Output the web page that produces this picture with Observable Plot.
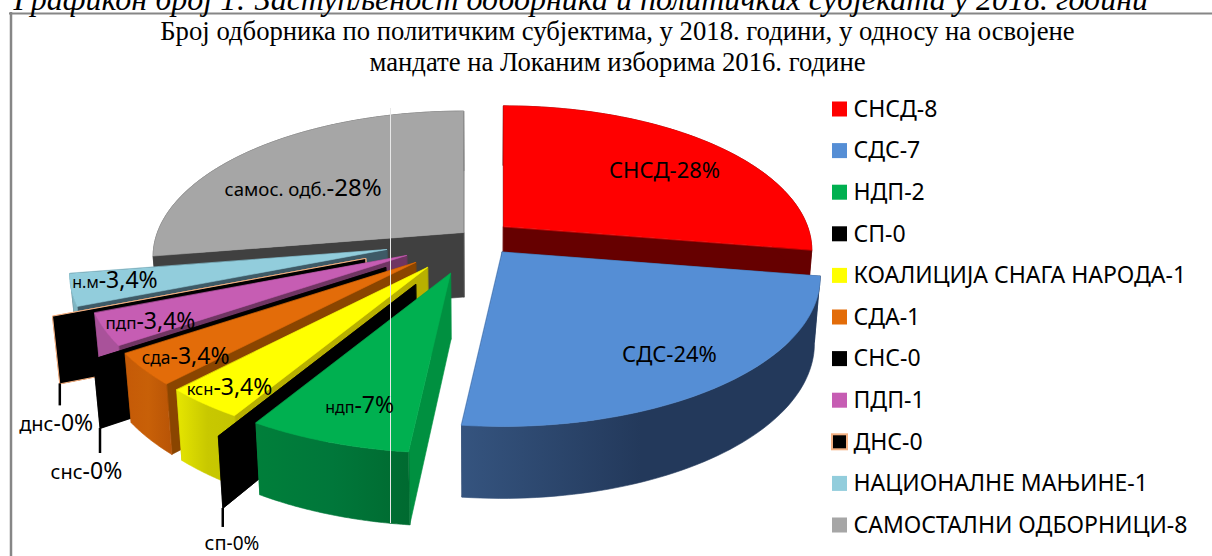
<!DOCTYPE html>
<html><head><meta charset="utf-8">
<style>html,body{margin:0;padding:0;background:#fff;overflow:hidden}svg{display:block}</style>
<script src="https://cdn.jsdelivr.net/npm/d3@7"></script>
<script src="https://cdn.jsdelivr.net/npm/@observablehq/plot@0.6"></script>
</head><body>
<script>
// ---- data ----
const parties = ["СНСД","СДС","НДП","СП","КОАЛИЦИЈА СНАГА НАРОДА","СДА","СНС","ПДП","ДНС","НАЦИОНАЛНЕ МАЊИНЕ","САМОСТАЛНИ ОДБОРНИЦИ"];
const seats   = [8,7,2,0,1,1,0,1,0,1,8];
const labelNames = ["СНСД","СДС","ндп","сп","ксн","сда","снс","пдп","днс","н.м","самос. одб."];
const labelPcts  = ["-28%","-24%","-7%","-0%","-3,4%","-3,4%","-0%","-3,4%","-0%","-3,4%","-28%"];
const topColors  = ["#FF0000","#558ED5","#00B050","#000000","#FFFF00","#E36C09","#000000","#C65DB3","#000000","#92CDDC","#A6A6A6"];
const sideColors = ["#660000","#23395b","#009040","#000000","#b8b000","#8a4500","#000000","#6f3562","#000000","#3e5a66","#404040"];
const rimColors  = ["#660000","url(#rimBlue)","url(#rimGreen)","#000000","url(#rimYellow)","url(#rimOrange)","#000000","#a9529a","#000000","#7fb5c2","#404040"];
const title = ["Број одборника по политичким субјектима, у 2018. години, у односу на освојене","мандате на Локаним изборима 2016. године"];
const caption = "Графикон број 1: Заступљеност одборника и политичких субјеката у 2018. години";

// ---- exploded-slice offsets on the pie plane (x, y in pie radii) ----
const explodeX = [.066,.060,-.103,-.209,-.176,-.2145,-.307,-.245,-.374,-.31,-.065];
const explodeY = [.078,-.100,-.2425,-.3125,-.2035,-.1706,-.2035,-.1238,-.1439,-.0831,.0353];

// ---- layout ----
const W = 1212, H = 556;
const cam = {cx:483, cy:237, f:308, g:142.4, k:.167, shrink:.983, thick:64.5, grow:.0006};
const paintOrder = [10,0,9,8,7,6,5,4,3,2,1];
const labelShift = [[166,-49],[164,110],[-96,140],[-189,266],[-214,128],[-245,101],[-303,212],[-270,73],[-312,173],[-288,39],[-137,-37]];
const nameSize = [22,22,16,20,16.5,17.4,20,17,20,16,18.6];
const pctSize  = [22,22,23,19,23,23,23,23,23,23,24];
const leaderLength = {3:19, 6:25, 8:22};

// ---- geometry: values -> projected 3D pie ----
const total = d3.sum(seats);
let acc = 0;
const slices = seats.map((v,i)=>{
  const a0 = acc/total*2*Math.PI; acc += v; const a1 = acc/total*2*Math.PI;
  const ex = explodeX[i], ey = explodeY[i], w0 = 1+cam.k*ey;
  const apex = [cam.cx+cam.f*ex/w0, cam.cy-cam.g*ey/w0];
  const pt = a=>{
    const s=Math.sin(a), c=Math.cos(a), w=1+cam.k*(ey+c);
    return [apex[0]+cam.f*s/w, apex[1]-cam.g*c/w];
  };
  return {i,a0,a1,apex,pt};
});
const drop = ([x,y]) => [cam.cx+(x-cam.cx)*cam.shrink, y+cam.thick*(1+cam.grow*(y-232))];
const arc = s => d3.range(0,61).map(j=>s.pt(s.a0+(s.a1-s.a0)*j/60));

const polys = [];
const add = (points,fill,extra={}) => polys.push(Plot.line(points,{x:d=>d[0],y:d=>d[1],fill,stroke:extra.stroke??fill,strokeWidth:extra.sw??.6,curve:"linear-closed"}));
for (const i of paintOrder){
  const s = slices[i], A = arc(s), side = sideColors[i];
  const wall = p => [s.apex,p,drop(p),drop(s.apex)];
  const outline = i===8 ? {stroke:"#F4B183",sw:1} : {};
  add(wall(A[A.length-1]),side,outline);
  add(wall(A[0]),side,outline);
  if (s.a1>s.a0){
    add([...A,...A.map(drop).reverse()],rimColors[i]);
    add([s.apex,...A],topColors[i]);
  }
}

// leaders for the zero slices
const leaders = Object.entries(leaderLength).map(([i,len])=>{
  const s = slices[+i], b = drop(s.pt(s.a0));
  return {x:b[0], y1:b[1], y2:b[1]+len};
});

const labelRows = slices.map(s=>({
  name:labelNames[s.i], pct:labelPcts[s.i],
  x:s.apex[0]+labelShift[s.i][0], y:s.apex[1]+labelShift[s.i][1],
  ns:nameSize[s.i], ps:pctSize[s.i]}));

const legendRows = parties.map((p,i)=>({text:`${p}-${seats[i]}`,i,color:topColors[i]}));
const legendY = i => 109+i*41.6;
const sans = "Noto Sans, sans-serif", serif = "Liberation Serif, serif";

const defsMark = () => {
  const ns="http://www.w3.org/2000/svg", defs=document.createElementNS(ns,"defs");
  const grads = {rimBlue:["#35547f","#23395b","#23395b"],rimGreen:["#007f3a","#00773a","#006a30"],rimYellow:["#e6e600","#c8c800","#c4c400"],rimOrange:["#c55a07","#c86008","#b85406"]};
  for (const [id,stops] of Object.entries(grads)){
    const g=document.createElementNS(ns,"linearGradient");
    g.setAttribute("id",id);
    stops.forEach((c,k)=>{const st=document.createElementNS(ns,"stop");st.setAttribute("offset",k/(stops.length-1));st.setAttribute("stop-color",c);g.appendChild(st);});
    defs.appendChild(g);
  }
  return defs;
};

const chart = Plot.plot({
  width:W,height:H,margin:0,
  style:{background:"#fff",overflow:"hidden"},
  x:{domain:[0,W],range:[0,W],axis:null},
  y:{domain:[0,H],range:[0,H],axis:null},
  marks:[
    defsMark,
    // frame
    Plot.ruleX([10.5],{y1:12,y2:H,stroke:"#868686",strokeWidth:2.5}),
    Plot.ruleY([13],{x1:9,x2:W,stroke:"#868686",strokeWidth:2}),
    // caption clipped by the page top
    Plot.text([caption],{x:13,y:9,text:d=>d,textAnchor:"start",lineAnchor:"bottom",fontFamily:serif,fontStyle:"italic",fontSize:32,fill:"#000"}),
    // title
    Plot.text(title,{x:617,y:(d,i)=>39+i*31,text:d=>d,fontFamily:serif,fontSize:26.7,fill:"#000",lineAnchor:"bottom"}),
    ...polys,
    // thin light line through the picture
    Plot.ruleX([390],{y1:108,y2:523,stroke:"#e8e8e8",strokeWidth:1}),
    Plot.ruleX(leaders,{x:"x",y1:"y1",y2:"y2",stroke:"#000",strokeWidth:2.5}),
    Plot.text(labelRows,{x:"x",y:"y",text:"name",textAnchor:"end",lineAnchor:"bottom",fontFamily:sans,fontSize:d=>d.ns,fill:"#000"}),
    Plot.text(labelRows,{x:"x",y:"y",text:"pct",textAnchor:"start",lineAnchor:"bottom",fontFamily:sans,fontSize:d=>d.ps,fill:"#000"}),
    // legend
    Plot.rect(legendRows,{x1:832,x2:847,y1:d=>legendY(d.i)-7.5,y2:d=>legendY(d.i)+7.5,fill:"color",stroke:d=>d.i===8?"#F4B183":"none",strokeWidth:2}),
    Plot.text(legendRows,{x:853,y:d=>legendY(d.i),text:"text",textAnchor:"start",fontFamily:sans,fontSize:23,fill:"#000"})
  ]
});
document.body.appendChild(chart);
</script>
</body></html>
